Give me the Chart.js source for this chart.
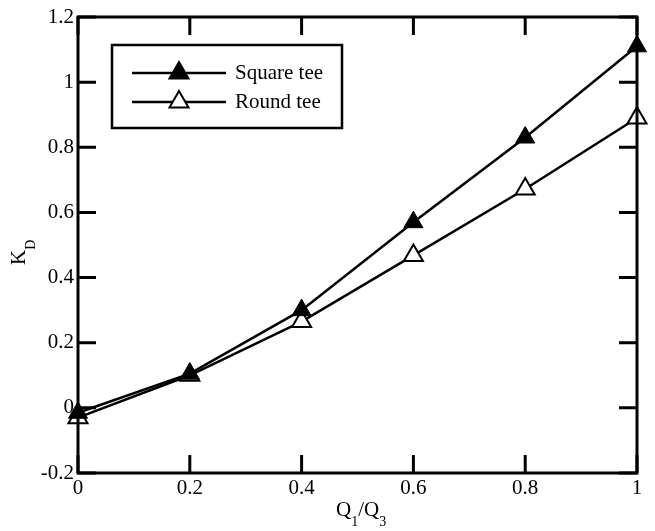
<!DOCTYPE html>
<html>
<head>
<meta charset="UTF-8">
<title>K_D vs Q1/Q3</title>
<script src="https://cdn.jsdelivr.net/npm/chart.js"></script>
<style>
  html, body { margin: 0; padding: 0; background: #fff; }
  #wrap { width: 655px; height: 531px; }
</style>
</head>
<body>
<div id="wrap"><canvas id="chart" width="655" height="531"></canvas></div>
<script>
const flowRatio = [0, 0.2, 0.4, 0.6, 0.8, 1.0];
const squareTee = [-0.015, 0.105, 0.30, 0.57, 0.83, 1.11];
const roundTee  = [-0.03, 0.10, 0.265, 0.468, 0.672, 0.89];
const xTicks = [0, 0.2, 0.4, 0.6, 0.8, 1];
const yTicks = [-0.2, 0, 0.2, 0.4, 0.6, 0.8, 1, 1.2];
const seriesNames = ['Square tee', 'Round tee'];

const serif = '"Liberation Serif", "DejaVu Serif", serif';

function pts(ys) { return flowRatio.map((x, i) => ({ x, y: ys[i] })); }

// draws text with subscripts: parts = [[text, isSub], ...]
function subText(ctx, parts, size, subSize, drop) {
  let x = 0;
  parts.forEach(([t, sub]) => {
    ctx.font = (sub ? subSize : size) + 'px ' + serif;
    ctx.fillText(t, x, sub ? drop : 0);
    x += ctx.measureText(t).width;
  });
}

// frame, inward ticks, legend box and subscripted titles
const decor = {
  id: 'decor',
  afterDraw(chart) {
    const { ctx, chartArea: a, scales } = chart;
    const xs = scales.x, ys = scales.y;
    const tl = 18;
    ctx.save();
    ctx.strokeStyle = '#000';
    ctx.lineWidth = 3;
    ctx.strokeRect(a.left, a.top, a.right - a.left, a.bottom - a.top);
    ctx.beginPath();
    xTicks.forEach(v => {
      const px = xs.getPixelForValue(v);
      ctx.moveTo(px, a.bottom); ctx.lineTo(px, a.bottom - tl);
      ctx.moveTo(px, a.top); ctx.lineTo(px, a.top + tl);
    });
    yTicks.forEach(v => {
      const py = ys.getPixelForValue(v);
      ctx.moveTo(a.left, py); ctx.lineTo(a.left + tl, py);
      ctx.moveTo(a.right, py); ctx.lineTo(a.right - tl, py);
    });
    ctx.stroke();

    // legend
    ctx.lineWidth = 2.5;
    ctx.fillStyle = '#fff';
    ctx.fillRect(112, 45, 230, 83);
    ctx.strokeRect(112, 45, 230, 83);
    const rows = [73, 102];
    rows.forEach((ry, i) => {
      ctx.beginPath();
      ctx.moveTo(132, ry); ctx.lineTo(226, ry);
      ctx.stroke();
      const r = 11;
      ctx.beginPath();
      ctx.moveTo(179, ry - r);
      ctx.lineTo(179 + r * 0.866, ry + r * 0.5);
      ctx.lineTo(179 - r * 0.866, ry + r * 0.5);
      ctx.closePath();
      ctx.fillStyle = i === 0 ? '#000' : '#fff';
      ctx.fill();
      ctx.lineWidth = 2;
      ctx.stroke();
      ctx.lineWidth = 2.5;
      ctx.fillStyle = '#000';
      ctx.font = '21px ' + serif;
      ctx.textAlign = 'left';
      ctx.textBaseline = 'middle';
      ctx.fillText(seriesNames[i], 235, ry);
    });

    // x title Q1/Q3
    ctx.fillStyle = '#000';
    ctx.textBaseline = 'alphabetic';
    ctx.textAlign = 'left';
    ctx.save();
    ctx.translate(336, 516);
    subText(ctx, [['Q', false], ['1', true], ['/Q', false], ['3', true]], 21, 14, 10);
    ctx.restore();

    // y title K_D
    ctx.translate(25, 265);
    ctx.rotate(-Math.PI / 2);
    subText(ctx, [['K', false], ['D', true]], 21, 14, 10);
    ctx.restore();
  }
};

new Chart(document.getElementById('chart'), {
  type: 'scatter',
  data: {
    datasets: [
      {
        label: seriesNames[0],
        data: pts(squareTee),
        showLine: true,
        borderColor: '#000',
        borderWidth: 2.5,
        pointStyle: 'triangle',
        pointRadius: 11,
        pointBackgroundColor: '#000',
        pointBorderColor: '#000',
        pointBorderWidth: 1
      },
      {
        label: seriesNames[1],
        data: pts(roundTee),
        showLine: true,
        borderColor: '#000',
        borderWidth: 2.5,
        pointStyle: 'triangle',
        pointRadius: 11,
        pointBackgroundColor: '#fff',
        pointBorderColor: '#000',
        pointBorderWidth: 2
      }
    ]
  },
  options: {
    responsive: false,
    animation: false,
    clip: false,
    layout: { padding: { left: 0, top: 17, right: 18, bottom: 0 } },
    plugins: { legend: { display: false }, tooltip: { enabled: false } },
    scales: {
      x: {
        type: 'linear',
        min: 0, max: 1,
        grid: { display: false, drawTicks: false },
        border: { display: false },
        afterFit(s) { s.height = 58; },
        afterBuildTicks(s) { s.ticks = xTicks.map(v => ({ value: v })); },
        ticks: {
          color: '#000',
          font: { family: serif, size: 21 },
          padding: 3,
          maxRotation: 0,
          callback: v => String(v)
        }
      },
      y: {
        type: 'linear',
        min: -0.2, max: 1.2,
        grid: { display: false, drawTicks: false },
        border: { display: false },
        afterFit(s) { s.width = 78; },
        afterBuildTicks(s) { s.ticks = yTicks.map(v => ({ value: v })); },
        ticks: {
          color: '#000',
          font: { family: serif, size: 21 },
          padding: 4,
          callback: v => String(Math.round(v * 10) / 10)
        }
      }
    }
  },
  plugins: [decor]
});
</script>
</body>
</html>
